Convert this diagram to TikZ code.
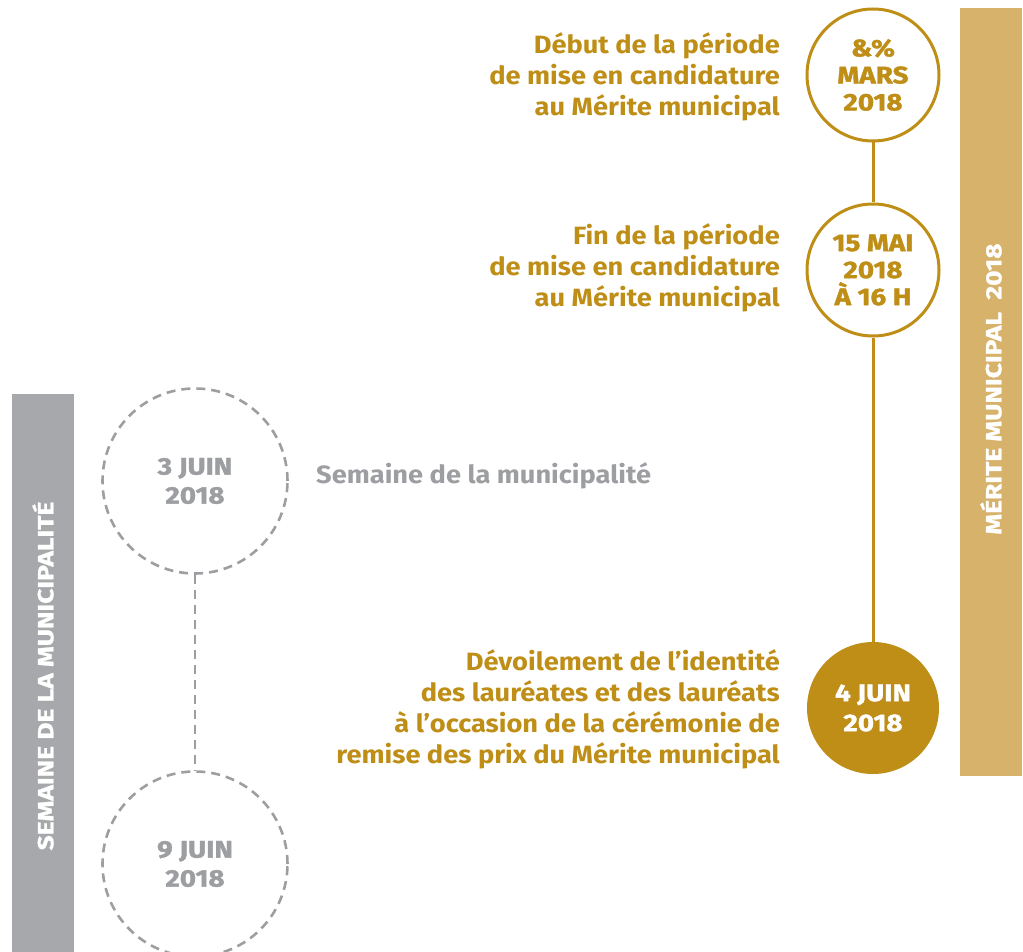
\documentclass[tikz,border=0pt]{standalone}
\usepackage{fontspec}
\setmainfont[FakeStretch=1.09]{Fira Sans}
\newfontfamily\circfont[FakeStretch=1.16,FakeBold=1.6]{Fira Sans}
\newfontfamily\barfont[FakeStretch=1.2,FakeBold=1.2]{Fira Sans}
\definecolor{gold}{HTML}{BE8E17}
\definecolor{goldlight}{HTML}{D7B26B}
\definecolor{greytxt}{HTML}{9D9EA1}
\definecolor{greybar}{HTML}{A7A8AB}
\begin{document}
\begin{tikzpicture}[x=1pt,y=-1pt,
  goldcirc/.style={circle,draw=gold,line width=3pt,minimum size=132pt,inner sep=0pt,fill=white,
     text=gold,font=\circfont\fontsize{24}{27}\selectfont\bfseries,align=center},
  goldfill/.style={circle,fill=gold,minimum size=132pt,inner sep=0pt,
     text=white,font=\circfont\fontsize{24}{30}\selectfont\bfseries,align=center},
  greycirc/.style={circle,draw=greytxt,line width=2.6pt,dash pattern=on 9pt off 6pt,minimum size=185pt,inner sep=0pt,
     text=greytxt,font=\circfont\fontsize{24}{29}\selectfont\bfseries,align=center},
  goldlabel/.style={anchor=east,align=right,text=gold,font=\fontsize{25}{31}\selectfont\bfseries,inner sep=0pt},
  barlabel/.style={rotate=90,text=white,font=\barfont\fontsize{22}{24}\selectfont\bfseries,inner sep=0pt},
  timeline/.style={draw=gold,line width=3pt},
  greyline/.style={draw=greytxt,line width=2.6pt,dash pattern=on 9pt off 6pt}]
\useasboundingbox (0,0) rectangle (1023,952);
% bars
\fill[goldlight] (960,8) rectangle (1022,776);
\fill[greybar] (12,394) rectangle (74,952);
\node[barlabel] (barm) at (991,389) {MÉRITE MUNICIPAL\ \ 2018};
\node[barlabel] (bars) at (43,676) {SEMAINE DE LA MUNICIPALITÉ};
% gold circles
\node[goldcirc] (c1) at (873,75) {\&\%\\MARS\\2018};
\node[goldcirc] (c2) at (873,270) {15 MAI\\2018\\À 16 H};
\node[goldfill] (c3) at (873,708) {4 JUIN\\2018};
\draw[timeline] (c1.south) -- (c2.north);
\draw[timeline] (c2.south) -- (c3.north);
% labels
\node[goldlabel] (l1) at (780,77) {Début de la période\\de mise en candidature\\au Mérite municipal};
\node[goldlabel] (l2) at (780,268) {Fin de la période\\de mise en candidature\\au Mérite municipal};
\node[goldlabel] (l3) at (780,709) {Dévoilement de l’identité\\des lauréates et des lauréats\\à l’occasion de la cérémonie de\\remise des prix du Mérite municipal};
% grey circles
\node[greycirc] (g1) at (195,481) {3 JUIN\\2018};
\node[greycirc] (g2) at (195,864) {9 JUIN\\2018};
\draw[greyline] (g1.south) -- (g2.north);
\node[anchor=west,text=greytxt,font=\fontsize{25}{31}\selectfont\bfseries,inner sep=0pt] (sl) at (316,476) {Semaine de la municipalité};
\end{tikzpicture}
\end{document}
